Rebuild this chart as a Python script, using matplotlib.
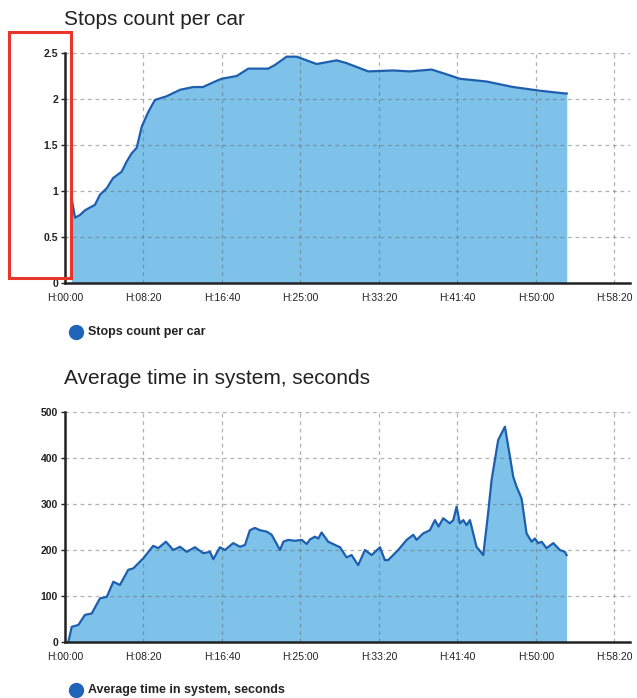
import matplotlib
matplotlib.use("Agg")
import matplotlib.pyplot as plt
from matplotlib.patches import Rectangle
from matplotlib.lines import Line2D

# ---- data ----
stops_t = [40, 64, 96, 127, 191, 223, 266, 306, 361, 393, 425, 457, 489, 531, 573,
           648, 733, 817, 879, 943, 998, 1094, 1168, 1295, 1338, 1412, 1476, 1603,
           1731, 1794, 1932, 2091, 2198, 2336, 2410, 2516, 2686, 2856, 3026, 3185, 3197]
stops_v = [0.94, 0.71, 0.74, 0.79, 0.85, 0.96, 1.03, 1.14, 1.21, 1.32, 1.41, 1.47, 1.70,
           1.86, 1.99, 2.03, 2.10, 2.13, 2.13, 2.18, 2.22, 2.25, 2.33, 2.33, 2.37, 2.46,
           2.46, 2.38, 2.42, 2.39, 2.30, 2.31, 2.30, 2.32, 2.28, 2.22, 2.19, 2.13, 2.09,
           2.06, 2.06]

avg_t = [21, 43, 85, 127, 170, 223, 266, 308, 350, 403, 435, 499, 562, 594, 643, 690,
         733, 775, 828, 881, 924, 945, 987, 1019, 1072, 1115, 1147, 1178, 1210, 1242,
         1285, 1317, 1370, 1391, 1422, 1465, 1508, 1540, 1561, 1593, 1614, 1635, 1677,
         1720, 1752, 1794, 1826, 1868, 1911, 1954, 2007, 2038, 2059, 2123, 2177, 2219,
         2240, 2282, 2325, 2357, 2380, 2410, 2452, 2474, 2495, 2516, 2538, 2559, 2580,
         2601, 2622, 2665, 2696, 2718, 2760, 2803, 2835, 2856, 2877, 2909, 2941, 2973,
         2994, 3015, 3037, 3068, 3111, 3153, 3185, 3196]
avg_v = [0, 33, 37, 59, 62, 95, 98, 131, 124, 157, 160, 182, 209, 204, 218, 200,
         207, 196, 206, 193, 196, 180, 206, 200, 215, 207, 211, 243, 248, 243,
         240, 233, 200, 218, 222, 220, 222, 213, 223, 229, 225, 238, 218,
         211, 206, 184, 189, 167, 200, 189, 206, 178, 178, 200, 222, 233,
         222, 236, 243, 265, 251, 269, 258, 265, 294, 258, 265, 254, 265,
         236, 207, 189, 280, 352, 439, 468, 403, 359, 338, 312, 236, 218,
         225, 215, 218, 204, 215, 200, 196, 189]

x_ticks = [0, 500, 1000, 1500, 2000, 2500, 3000, 3500]
x_tick_labels = ["H:00:00", "H:08:20", "H:16:40", "H:25:00", "H:33:20",
                 "H:41:40", "H:50:00", "H:58:20"]
stops_yticks = [0, 0.5, 1, 1.5, 2, 2.5]
stops_ylabels = ["0", "0.5", "1", "1.5", "2", "2.5"]
avg_yticks = [0, 100, 200, 300, 400, 500]
avg_ylabels = ["0", "100", "200", "300", "400", "500"]

title1 = "Stops count per car"
title2 = "Average time in system, seconds"

FILL = "#7ec2ea"
LINE = "#1d5fae"
FONT = ["Liberation Sans", "DejaVu Sans"]

W, H = 637, 698
fig = plt.figure(figsize=(W / 100, H / 100), dpi=100)


def fx(px):
    return px / W


def fy(py):
    return 1 - py / H


def make_axes(top_px, bottom_px, t, v, yticks, ylabels, ymax, title, legend_y):
    ax = fig.add_axes([fx(65), fy(bottom_px), fx(630) - fx(65), fy(top_px) - fy(bottom_px)])
    ax.fill_between(t, v, 0, color=FILL, lw=0, zorder=1)
    ax.plot(t, v, color=LINE, lw=1.6, zorder=3)
    ax.set_xlim(0, 3600)
    ax.set_ylim(0, ymax)
    ax.set_xticks(x_ticks)
    ax.set_xticklabels(x_tick_labels, fontsize=7.5, family=FONT)
    ax.set_yticks(yticks)
    ax.set_yticklabels(ylabels, fontsize=7.5, family=FONT, fontweight="bold")
    ax.grid(True, color="#666666", alpha=0.5, linestyle=(0, (3, 3)), lw=0.9, zorder=2)
    ax.set_axisbelow(False)
    for s in ["top", "right"]:
        ax.spines[s].set_visible(False)
    for s in ["left", "bottom"]:
        ax.spines[s].set_linewidth(1.8)
        ax.spines[s].set_color("#222222")
        ax.spines[s].set_zorder(5)
    ax.tick_params(axis="x", length=0, pad=7, colors="#222222")
    ax.tick_params(axis="y", length=3, width=1, pad=2, colors="#222222")
    fig.text(fx(64), fy(top_px - 24), title, fontsize=15, family=FONT,
             color="#222222", va="bottom", ha="left")
    fig.add_artist(Line2D([fx(76)], [fy(legend_y)], marker="o", markersize=10,
                          color="#1f64b8", transform=fig.transFigure))
    fig.text(fx(88), fy(legend_y), title, fontsize=9, family=FONT, color="#222222",
             va="center", ha="left", fontweight="bold")
    return ax


ax1 = make_axes(53, 283, stops_t, stops_v, stops_yticks, stops_ylabels, 2.5, title1, 332)
ax2 = make_axes(412, 642, avg_t, avg_v, avg_yticks, avg_ylabels, 500, title2, 690)

# red highlight box around the first y axis
fig.patches.append(Rectangle((fx(9), fy(278)), fx(71) - fx(9), fy(32) - fy(278),
                             fill=False, edgecolor="#e8362a", lw=2.2,
                             transform=fig.transFigure, figure=fig, zorder=10))

fig.savefig("out.png", dpi=100, facecolor="white")
